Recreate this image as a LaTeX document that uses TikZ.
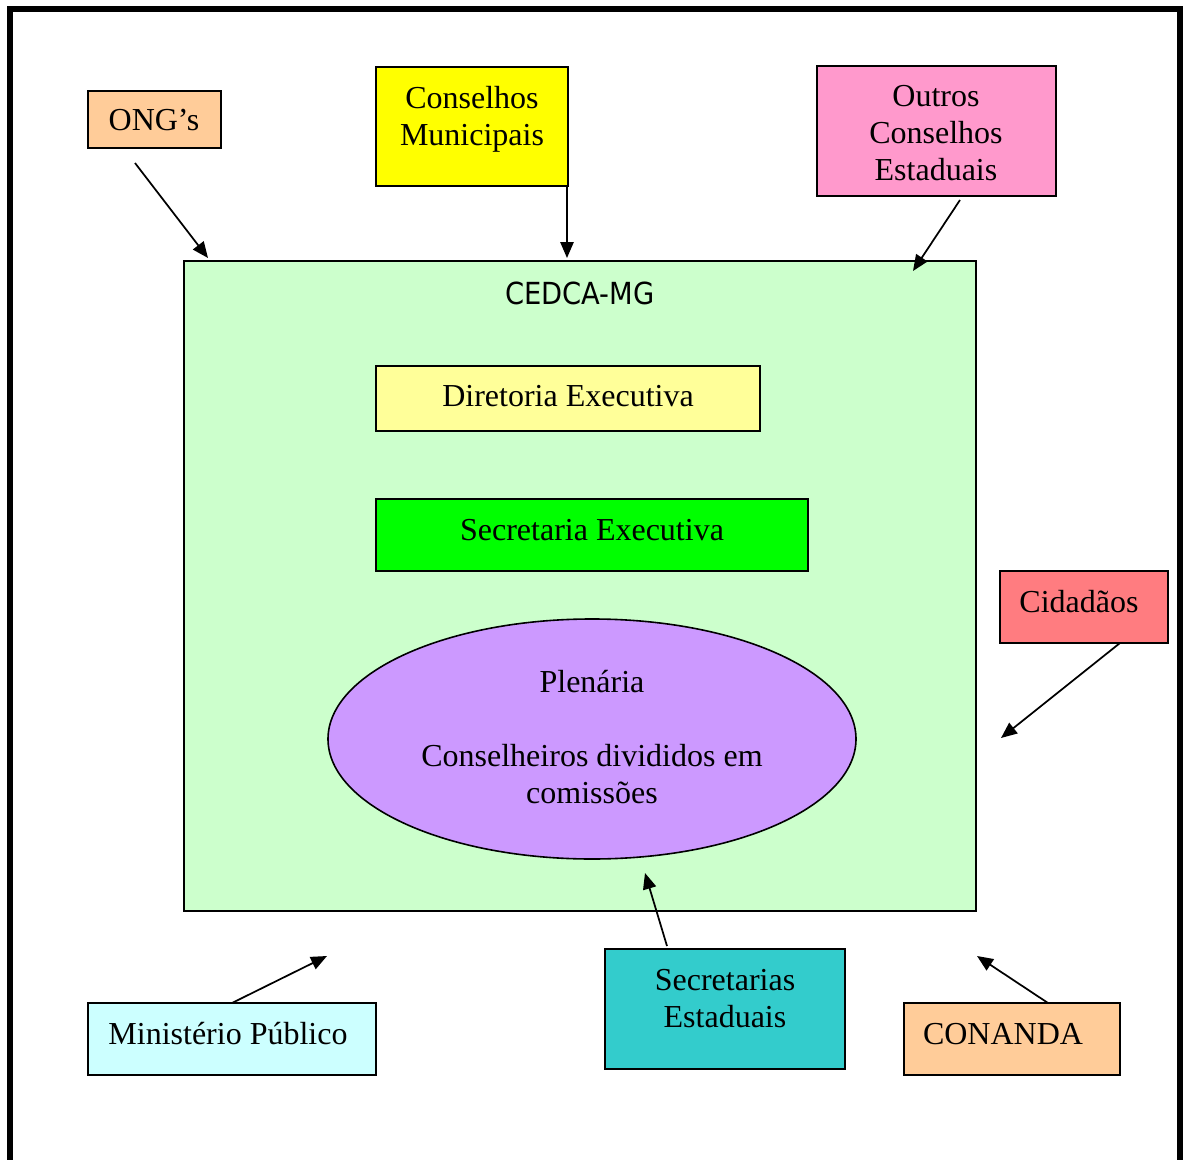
\documentclass[tikz,border=0pt]{standalone}
\usepackage{fontspec}
\setmainfont{Liberation Serif}
\newfontfamily\cedcafont{DejaVu Sans Condensed}
\usetikzlibrary{arrows.meta,fit,shapes.geometric}
\definecolor{cOng}{HTML}{FFCC99}
\definecolor{cMun}{HTML}{FFFF00}
\definecolor{cOut}{HTML}{FF99CC}
\definecolor{cCed}{HTML}{CCFFCC}
\definecolor{cDir}{HTML}{FFFF99}
\definecolor{cSec}{HTML}{00FF00}
\definecolor{cPle}{HTML}{CC99FF}
\definecolor{cCid}{HTML}{FF7C80}
\definecolor{cMin}{HTML}{CCFFFF}
\definecolor{cSes}{HTML}{33CCCC}
\begin{document}
\begin{tikzpicture}[x=0.75pt,y=-0.75pt,
  box/.style={draw, line width=1.2pt, inner sep=0pt},
  txt/.style={font=\fontsize{24}{27.75}\selectfont, align=center, inner sep=0pt},
  arr/.style={line width=1.3pt, -{Triangle[length=12pt,width=10pt]}}]
\useasboundingbox (0,0) rectangle (1183,1160);
\fill[white] (0,0) rectangle (1183,1160);
\draw[line width=3.9pt] (10,1175) -- (10,9) -- (1180,9) -- (1180,1175);

% boxes
\node[box, fill=cOng, fit={(88,91) (221,148)}] (ong) {};
\node[box, fill=cMun, fit={(376,67) (568,186)}] (mun) {};
\node[box, fill=cOut, fit={(817,66) (1056,196)}] (out) {};
\node[box, fill=cCed, fit={(184,261) (976,911)}] (ced) {};
\node[box, fill=cDir, fit={(376,366) (760,431)}] (dir) {};
\node[box, fill=cSec, fit={(376,499) (808,571)}] (sec) {};
\node[box, fill=cPle, ellipse, minimum width=396pt, minimum height=180pt] (ple) at (592,739) {};
\node[box, fill=cCid, fit={(1000,571) (1168,643)}] (cid) {};
\node[box, fill=cMin, fit={(88,1003) (376,1075)}] (min) {};
\node[box, fill=cSes, fit={(605,949) (845,1069)}] (ses) {};
\node[box, fill=cOng, fit={(904,1003) (1120,1075)}] (con) {};

% texts
\node[txt] (tong) at (154,120) {ONG’s};
\node[txt] (tmun) at (472,119) {Conselhos\\Municipais};
\node[txt] (tout) at (936,133) {Outros\\Conselhos\\Estaduais};
\node[inner sep=0pt, font=\cedcafont\fontsize{22.8}{26}\selectfont] (tced) at (580,293) {CEDCA-MG};
\node[txt] (tdir) at (568,396) {Diretoria Executiva};
\node[txt] (tsec) at (592,530) {Secretaria Executiva};
\node[txt] (tple) at (592,737) {Plenária\\[27.75pt]Conselheiros divididos em\\comissões};
\node[txt] (tcid) at (1079,602) {Cidadãos};
\node[txt] (tmin) at (228,1034) {Ministério Público};
\node[txt] (tses) at (725,999) {Secretarias\\Estaduais};
\node[txt] (tcon) at (1003,1034) {CONANDA};

% arrow end points
\coordinate (aOng1) at (135,163);  \coordinate (aOng2) at (208,258);
\coordinate (aMun1) at (567,186);  \coordinate (aMun2) at (567,258);
\coordinate (aOut1) at (960,200);  \coordinate (aOut2) at (913,271);
\coordinate (aCid1) at (1120,643); \coordinate (aCid2) at (1001,738);
\coordinate (aSes1) at (667,946);  \coordinate (aSes2) at (645,873);
\coordinate (aMin1) at (232,1003); \coordinate (aMin2) at (327,956);
\coordinate (aCon1) at (1048,1003);\coordinate (aCon2) at (977,956);

\draw[arr] (aOng1) -- (aOng2);
\draw[arr] (aMun1) -- (aMun2);
\draw[arr] (aOut1) -- (aOut2);
\draw[arr] (aCid1) -- (aCid2);
\draw[arr] (aSes1) -- (aSes2);
\draw[arr] (aMin1) -- (aMin2);
\draw[arr] (aCon1) -- (aCon2);
\end{tikzpicture}
\end{document}
